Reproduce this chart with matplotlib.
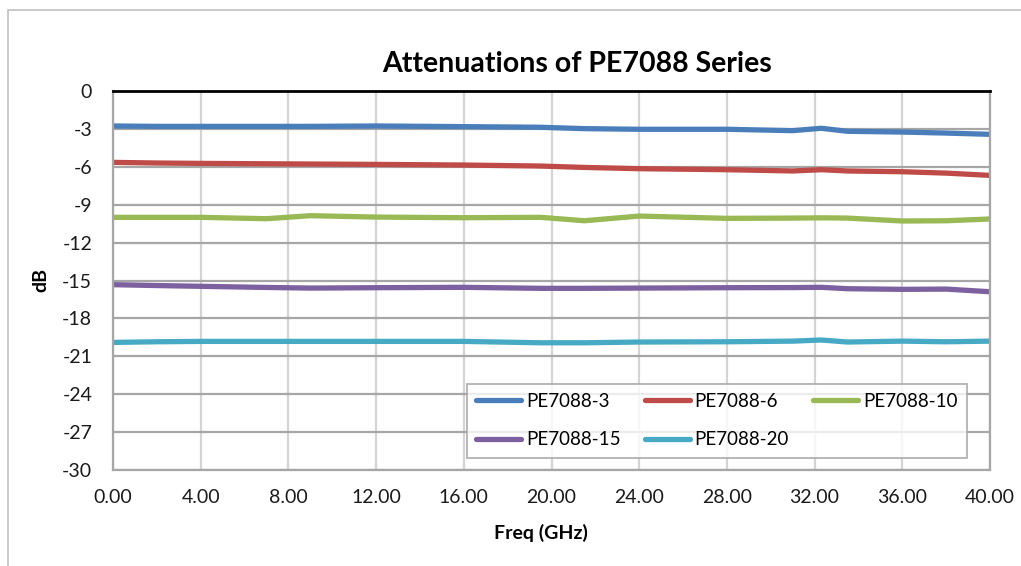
import matplotlib.pyplot as plt
from matplotlib.patches import Rectangle

plt.rcParams['font.family'] = ['Lato', 'DejaVu Sans']
plt.rcParams['axes.unicode_minus'] = False

# frequency points (GHz)
freq = [0, 2, 4, 7, 9, 12, 16, 19.5, 21.5, 24, 28, 31, 32.3, 33.5, 36, 38, 40]

pe3 = [-2.77, -2.80, -2.80, -2.80, -2.80, -2.77, -2.82, -2.87, -2.98, -3.03, -3.03, -3.14, -2.95,
       -3.19, -3.25, -3.33, -3.43]
pe6 = [-5.65, -5.70, -5.73, -5.76, -5.78, -5.81, -5.86, -5.94, -6.05, -6.15, -6.23, -6.33, -6.23,
       -6.33, -6.39, -6.50, -6.68]
pe10 = [-10.00, -10.00, -10.00, -10.11, -9.87, -9.98, -10.03, -10.00, -10.27, -9.90, -10.08, -10.06,
        -10.04, -10.06, -10.29, -10.27, -10.13]
pe15 = [-15.33, -15.40, -15.46, -15.55, -15.60, -15.57, -15.54, -15.62, -15.62, -15.60, -15.57, -15.56,
        -15.54, -15.65, -15.70, -15.68, -15.89]
pe20 = [-19.90, -19.85, -19.82, -19.82, -19.82, -19.82, -19.82, -19.93, -19.93, -19.87, -19.85, -19.80,
        -19.71, -19.87, -19.80, -19.85, -19.80]

series = [('PE7088-3', pe3, '#4A7EBB'),
          ('PE7088-6', pe6, '#BE4B48'),
          ('PE7088-10', pe10, '#98B954'),
          ('PE7088-15', pe15, '#7D60A0'),
          ('PE7088-20', pe20, '#46AAC5')]

fig = plt.figure(figsize=(10.21, 5.66), dpi=100)
fig.patches.append(Rectangle((8 / 1021, -0.1), 1.2, 1.1 - 10 / 566, transform=fig.transFigure,
                             fill=False, edgecolor='#c0c0c0', linewidth=1.2))
ax = fig.add_axes([113 / 1021, 96 / 566, 877 / 1021, 379 / 566])

lines = []
for name, vals, col in series:
    ln, = ax.plot(freq, vals, color=col, linewidth=3.8, label=name, solid_capstyle='butt',
                  solid_joinstyle='round')
    lines.append(ln)

ax.set_xlim(0, 40)
ax.set_ylim(-30, 0)
ax.set_xticks(range(0, 41, 4))
ax.set_xticklabels(['%.2f' % v for v in range(0, 41, 4)])
ax.set_yticks(range(-30, 1, 3))

ax.xaxis.grid(True, color='#d4d4d4', linewidth=1.6)
ax.yaxis.grid(True, color='#a6a6a6', linewidth=1.6)
ax.set_axisbelow(True)
for s in ['left', 'bottom', 'right']:
    ax.spines[s].set_color('#a6a6a6')
    ax.spines[s].set_linewidth(1.6)
ax.spines['top'].set_color('black')
ax.spines['top'].set_linewidth(2)
ax.tick_params(length=0, labelsize=14, colors='#1a1a1a')
ax.tick_params(axis='y', pad=15)
ax.tick_params(axis='x', pad=14)

# Excel centres the title / axis titles on the chart area, not the plot area
fig.text(577 / 1021, 1 - 64 / 566, 'Attenuations of PE7088 Series', fontsize=20.5,
         fontweight='bold', ha='center', va='center')
fig.text(541 / 1021, 1 - 533 / 566, 'Freq (GHz)', fontsize=14, fontweight='bold',
         ha='center', va='center')
fig.text(41 / 1021, 1 - 280 / 566, 'dB', fontsize=14, fontweight='bold', rotation=90,
         ha='center', va='center')

# row-major legend order (matplotlib fills columns first)
order = [0, 3, 1, 4, 2]
leg = ax.legend([lines[i] for i in order], [series[i][0] for i in order], ncol=3,
                loc='lower right', bbox_to_anchor=((967 - 113) / 877, 0.032),
                fontsize=13.5, frameon=True, fancybox=False, edgecolor='#a6a6a6',
                handlelength=2.4, handletextpad=0.25, columnspacing=1.3, borderpad=0.5,
                labelspacing=1.15, borderaxespad=0)
leg.get_frame().set_linewidth(1.4)
for h in leg.legend_handles:
    h.set_solid_capstyle('round')

fig.savefig('out.png', dpi=100)
